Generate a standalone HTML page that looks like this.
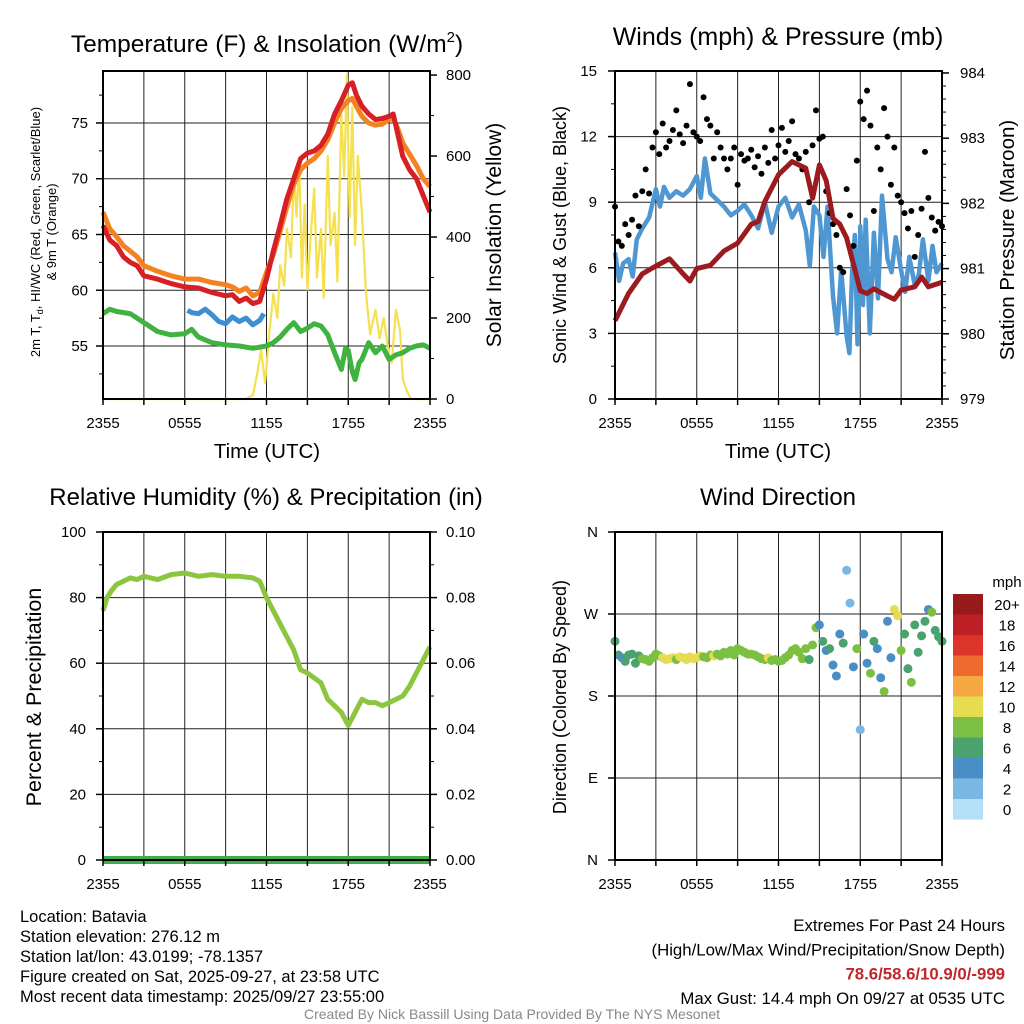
<!DOCTYPE html>
<html><head><meta charset="utf-8"><style>
body{margin:0;background:#fff}
svg{display:block;font-family:"Liberation Sans",sans-serif}
</style></head><body>
<svg id="c" width="1024" height="1024" viewBox="0 0 1024 1024" xmlns="http://www.w3.org/2000/svg"></svg>
<script>
// ---------- DATA ----------
const hourTicks=[0,6,12,18,24];
const hourTickLabels=["2355","0555","1155","1755","2355"];
const tempT=[0,0.5,1,1.5,2,2.5,3,4,5,6,7,8,9,9.5,10,10.5,11,11.5,12,12.5,13,13.5,14,14.5,15,15.5,16,16.5,17,17.5,18,18.3,18.6,19,19.5,20,20.5,21,21.3,21.6,22,22.5,23,23.5,24];
const tempRed=[65.8,64.5,64,63,62.5,62.2,61.3,61,60.6,60.3,60.2,59.8,59.5,59.6,59,59.3,58.8,59,61,63.5,65.8,68.2,70,71.8,72.3,72.5,73,74,75.8,77,78.4,78.6,77.5,76.5,75.8,75.3,75.4,75.6,75.8,74.2,72,70.8,70,68.5,67];
const tempOrange=[67,65.5,64.8,64,63.5,63,62.2,61.7,61.3,61,61,60.7,60.5,60.3,59.9,60.2,59.5,59.8,61.6,63.2,65.3,67.5,69.5,70.8,71.4,71.8,72.5,73.5,75,76.3,77,77.2,76.5,75.6,75,74.8,74.9,75.3,75.4,74.6,73.2,72.2,71.2,70,69.3];
const dewT=[6.2,6.5,7,7.5,8,8.5,9,9.5,10,10.5,11,11.5,11.8];
const dewBlue=[58.2,58,57.9,58.3,57.8,57.2,57,57.6,57.2,57.5,56.9,57.3,57.9];
const greenT=[0,0.5,1,2,3,4,5,6,6.5,7,8,9,10,11,12,12.5,13,13.5,14,14.5,15,15.5,16,16.5,17,17.3,17.5,17.8,18,18.3,18.5,18.8,19,19.5,20,20.5,21,21.5,22,22.5,23,23.5,24];
const greenVal=[57.9,58.3,58.1,57.9,57.1,56.3,56,56.1,56.5,55.8,55.3,55.1,55,54.8,55,55.3,55.8,56.5,57.1,56.3,56.6,57,56.8,56,54.4,53.5,52.9,54.8,54.6,52.7,52,53.5,53.8,55.3,54.4,55,53.8,54.2,54.4,54.8,55,55.1,54.8];
const solarT=[0,10.5,11,11.3,11.6,11.9,12.2,12.5,12.8,13,13.3,13.5,13.8,14,14.2,14.4,14.6,14.8,15,15.2,15.5,15.7,16,16.2,16.5,16.7,17,17.2,17.5,17.7,17.9,18.1,18.3,18.5,18.7,19,19.3,19.6,20,20.3,20.6,21,21.2,21.5,21.8,22,22.3,22.6,24];
const solarVal=[0,0,10,60,120,40,160,260,200,330,280,420,350,560,450,590,300,480,270,380,520,300,420,250,600,380,460,290,700,550,800,450,720,380,600,460,260,160,220,150,200,110,90,220,170,50,20,0,0];
const windT=[0,0.3,0.6,1,1.3,1.6,2,2.5,3,3.3,3.6,4,4.5,5,5.5,6,6.3,6.6,7,7.5,8,8.5,9,9.5,10,10.5,11,11.5,12,12.5,13,13.5,14,14.3,14.6,15,15.3,15.6,16,16.3,16.6,17,17.2,17.4,17.6,17.8,18,18.2,18.4,18.7,19,19.3,19.6,20,20.3,20.6,21,21.3,21.6,22,22.3,22.6,23,23.3,23.6,24];
const windVal=[6.7,5.4,6.2,6.4,5.6,7.3,7.8,8.3,9.6,8.8,9.7,9.2,9.5,9.3,9.6,10.2,9.2,11,9.4,9.1,8.8,8.4,8.6,8.9,8.4,7.8,9,7.6,8.8,9.2,8.3,8.9,7.7,6.1,8.8,8.4,6.5,8.8,4.7,3.0,5.9,2.9,2.1,5.8,7.5,2.5,7.9,4.3,8.2,3.0,7.6,4.6,9.3,6.4,5.8,7.4,5.9,4.9,6.5,5.2,5.7,7.3,5.4,7.0,5.8,6.2];
const gustVal=[8.8,7.2,7.0,8.0,7.5,8.2,9.3,7.9,9.5,10.5,9.4,11.5,12.2,11.2,12.6,11.5,11.8,12.3,13.2,12.1,11.7,12.5,14.4,12.2,12.0,11.8,13.8,12.8,12.5,11.0,12.2,11.5,11.0,10.5,11.0,11.5,9.8,11.2,10.9,11.0,11.4,10.6,11.1,10.3,11.5,10.8,12.3,11.0,11.6,12.4,11.3,11.8,12.7,11.2,11.0,10.5,11.3,9.0,11.6,13.2,11.9,12.0,9.5,8.5,8.0,7.5,6.0,5.8,9.6,8.4,7.0,10.9,13.6,12.8,14.1,12.5,8.6,11.5,10.5,13.3,12.0,9.8,11.5,9.3,9.0,8.5,7.8,8.6,6.5,7.5,8.7,11.3,9.2,8.3,7.7,8.1,7.9];
const presT=[0,1,2,3,4,5,5.5,6,7,8,9,10,10.5,11,12,13,14,14.5,15,15.5,16,16.5,17,17.5,18,18.5,19,20,20.5,21,22,22.5,23,24];
const presVal=[980.2,980.62,980.92,981.04,981.15,980.92,980.81,981.0,981.05,981.27,981.39,981.68,981.72,982.03,982.44,982.64,982.54,982.08,982.59,982.35,981.77,981.68,981.47,981.07,980.66,980.62,980.69,980.58,980.53,980.67,980.72,980.87,980.72,980.79];
const rhT=[0,0.3,0.6,1,1.5,2,2.5,3,4,5,6,7,8,9,10,11,11.5,12,12.5,13,13.5,14,14.5,15,16,16.5,17,17.5,18,18.5,19,19.5,20,20.5,21,22,22.5,23,23.5,24];
const rhVal=[76,80,82,84,85,86,85.5,86.5,85.5,87,87.5,86.5,87,86.5,86.5,86,85,80,76,72,68,64,58,57,54,49,47,45,41,45,49,48,48,47,48,50,53,57,61,65];
const precipT=[0,24];
const precipVal=[0,0];
const dirVal=[240,225,222,218,225,226,216,224,221,220,218,222,226,224,222,220,221,222,220,223,222,220,223,221,222,224,223,222,225,224,226,224,228,226,230,225,232,230,228,226,226,225,223,221,220,222,219,220,218,219,222,225,230,232,228,221,232,220,236,255,258,240,230,232,214,202,248,238,318,282,212,232,143,248,216,205,240,232,200,185,262,222,275,268,230,248,210,195,258,228,246,262,275,272,252,245,240];
const dirSpd=[6,6,5,7,6,6,7,6,8,8,8,8,9,8,10,10,10,10,9,10,10,11,10,10,11,10,9,9,9,10,9,8,8,9,8,8,8,8,9,8,8,8,8,8,9,10,8,8,8,8,8,8,8,8,9,8,8,7,8,9,5,7,5,6,4,4,5,7,3,3,5,8,3,4,5,8,7,5,4,8,5,5,11,10,8,7,6,9,7,6,6,7,4,8,7,6,7];
const legendLabels=["20+","18","16","14","12","10","8","6","4","2","0"];
const legendColors=["#981a1b","#bd1f24","#dc3428","#ef6a2e","#f5a742","#e5dc52","#7cc043","#4aa36e","#4a8ec6","#7ab8e3","#b3e0f7"];

// ---------- HELPERS ----------
const NS="http://www.w3.org/2000/svg";
const svg=document.getElementById('c');
function el(tag,attrs,parent){const e=document.createElementNS(NS,tag);for(const k in attrs)e.setAttribute(k,attrs[k]);(parent||svg).appendChild(e);return e;}
function txt(s,x,y,size,anchor,extra,parent){const e=el('text',Object.assign({x:x,y:y,'font-size':size,'text-anchor':anchor||'middle',fill:'#000'},extra||{}),parent);e.textContent=s;return e;}
function lin(d0,d1,r0,r1){return v=>r0+(v-d0)/(d1-d0)*(r1-r0);}
function pathOf(xs,ys,fx,fy){return xs.map((t,i)=>(i?'L':'M')+fx(t).toFixed(1)+' '+fy(ys[i]).toFixed(1)).join(' ');}
function colorFor(s){let i=Math.min(10,Math.floor(s/2));return legendColors[10-i];}

function panel(name){
  const g=el('g',{});
  
  
  return g;
}
function grid(g,x0,x1,y0,y1,yLines){
  for(let h=0;h<=24;h+=3){const fx=lin(0,24,x0,x1);const l=el('line',{x1:fx(h),x2:fx(h),y1:y0,y2:y1,stroke:'#222','stroke-width':1},g);
    
    }
  yLines.forEach(y=>{const l=el('line',{x1:x0,x2:x1,y1:y,y2:y,stroke:'#222','stroke-width':1},g);
    
    });
}
function frame(g,x0,x1,y0,y1){const r=el('rect',{x:x0,y:y0,width:x1-x0,height:y1-y0,fill:'none',stroke:'#000','stroke-width':2},g);
  
  }
function xAxis(g,x0,x1,y1){const fx=lin(0,24,x0,x1);
  for(let h=0;h<=24;h+=3){el('line',{x1:fx(h),x2:fx(h),y1:y1,y2:y1+6,stroke:'#000','stroke-width':1.5},g);}
  hourTicks.forEach((h,i)=>{const t=txt(hourTickLabels[i],fx(h),y1+29,15,'middle',{},g);
    
    });
}
function yTicks(g,x,side,fy,vals,labels,minors,lx){
  vals.forEach((v,i)=>{el('line',{x1:x,x2:x+side*7,y1:fy(v),y2:fy(v),stroke:'#000','stroke-width':1.5},g);
    const t=txt(labels[i],lx,fy(v)+5,15,side<0?'end':'start',{},g);
    
    });
  minors.forEach(v=>{el('line',{x1:x,x2:x+side*4,y1:fy(v),y2:fy(v),stroke:'#000','stroke-width':1},g);});
}
function vlabel(g,s,x,y,size,name){const t=txt(s,x,y,size,'middle',{transform:`rotate(-90 ${x} ${y})`},g);
  
  return t;}

// ---------- PANEL 1: TEMPERATURE ----------
(function(){
  const x0=103,x1=430,y0=71,y1=399;
  const g=panel('temperature-panel');
  const fx=lin(0,24,x0,x1), fy=lin(50.25,79.66,y1,y0), fs=lin(0,810,y1,y0);
  grid(g,x0,x1,y0,y1,[55,60,65,70,75].map(fy));
  const sol=el('path',{d:pathOf(solarT,solarVal,fx,fs),fill:'none',stroke:'#f5e050','stroke-width':2.2,'stroke-linejoin':'round'},g);
  
  
  const gr=el('path',{d:pathOf(greenT,greenVal,fx,fy),fill:'none',stroke:'#3fb23f','stroke-width':5,'stroke-linejoin':'round'},g);
  
  
  const bl=el('path',{d:pathOf(dewT,dewBlue,fx,fy),fill:'none',stroke:'#3d8fd1','stroke-width':5,'stroke-linejoin':'round'},g);
  
  
  const or=el('path',{d:pathOf(tempT,tempOrange,fx,fy),fill:'none',stroke:'#f58220','stroke-width':5,'stroke-linejoin':'round'},g);
  
  
  const rd=el('path',{d:pathOf(tempT,tempRed,fx,fy),fill:'none',stroke:'#d71f26','stroke-width':5,'stroke-linejoin':'round'},g);
  
  
  frame(g,x0,x1,y0,y1);
  xAxis(g,x0,x1,y1);
  const mn=[];for(let v=52.5;v<80;v+=5)mn.push(v);
  yTicks(g,x0,-1,fy,[55,60,65,70,75],["55","60","65","70","75"],mn,88);
  const mn2=[];for(let v=100;v<810;v+=200)mn2.push(v);
  yTicks(g,x1,1,fs,[0,200,400,600,800],["0","200","400","600","800"],mn2,446);
  const tt=txt('',267,52,24.5,'middle',{},g);tt.innerHTML='Temperature (F) &amp; Insolation (W/m<tspan dy="-10" font-size="15">2</tspan><tspan dy="10">)</tspan>';
  
  
  const xl=txt('Time (UTC)',267,458,20.5,'middle',{},g);
  
  
  const l1=vlabel(g,'',40,232,13,'temperature-y-axis-title');l1.innerHTML='2m T, T<tspan dy="3" font-size="9">d</tspan><tspan dy="-3">, HI/WC (Red, Green, Scarlet/Blue)</tspan>';
  vlabel(g,'& 9m T (Orange)',56,232,13,'temperature-y-axis-title-2');
  vlabel(g,'Solar Insolation (Yellow)',501,235,21,'solar-y-axis-title');
})();

// ---------- PANEL 2: WINDS ----------
(function(){
  const x0=615,x1=942,y0=71,y1=399;
  const g=panel('winds-panel');
  const fx=lin(0,24,x0,x1), fy=lin(0,15,y1,y0), fp=lin(979,984.03,y1,y0);
  grid(g,x0,x1,y0,y1,[3,6,9,12].map(fy));
  const wl=el('path',{d:pathOf(windT,windVal,fx,fy),fill:'none',stroke:'#4f97d3','stroke-width':4.5,'stroke-linejoin':'round'},g);
  
  
  gustVal.forEach((v,i)=>{const c=el('circle',{cx:fx(i*0.25),cy:fy(v),r:3,fill:'#000'},g);
    
    });
  const pl=el('path',{d:pathOf(presT,presVal,fx,fp),fill:'none',stroke:'#9b1b1e','stroke-width':5,'stroke-linejoin':'round'},g);
  
  
  frame(g,x0,x1,y0,y1);
  xAxis(g,x0,x1,y1);
  const mn=[];for(let v=1.5;v<15;v+=3)mn.push(v);
  yTicks(g,x0,-1,fy,[0,3,6,9,12,15],["0","3","6","9","12","15"],mn,597);
  const mn2=[];for(let v=979.2;v<984;v+=0.2){if(Math.abs(v-Math.round(v))>0.05)mn2.push(v);}
  yTicks(g,x1,1,fp,[979,980,981,982,983,984],["979","980","981","982","983","984"],mn2,960);
  const tt=txt('Winds (mph) & Pressure (mb)',778,45,25,'middle',{},g);
  
  
  const xl=txt('Time (UTC)',778,458,20.5,'middle',{},g);
  
  
  vlabel(g,'Sonic Wind & Gust (Blue, Black)',566,235,18,'wind-y-axis-title');
  vlabel(g,'Station Pressure (Maroon)',1014,240,20.5,'pressure-y-axis-title');
})();

// ---------- PANEL 3: HUMIDITY ----------
(function(){
  const x0=103,x1=430,y0=532,y1=860;
  const g=panel('humidity-panel');
  const fx=lin(0,24,x0,x1), fy=lin(0,100,y1,y0), fp=lin(0,0.1,y1,y0);
  grid(g,x0,x1,y0,y1,[20,40,60,80].map(fy));
  const rl=el('path',{d:pathOf(rhT,rhVal,fx,fy),fill:'none',stroke:'#8cc63f','stroke-width':5,'stroke-linejoin':'round'},g);
  
  
  const pr=el('path',{d:pathOf(precipT,precipVal,fx,fp),fill:'none',stroke:'#3fae49','stroke-width':8},g);
  
  
  frame(g,x0,x1,y0,y1);
  xAxis(g,x0,x1,y1);
  const mn=[];for(let v=10;v<100;v+=20)mn.push(v);
  yTicks(g,x0,-1,fy,[0,20,40,60,80,100],["0","20","40","60","80","100"],mn,86);
  const mn2=[];for(let v=0.01;v<0.1;v+=0.02)mn2.push(v);
  yTicks(g,x1,1,fp,[0,0.02,0.04,0.06,0.08,0.1],["0.00","0.02","0.04","0.06","0.08","0.10"],mn2,446);
  const tt=txt('Relative Humidity (%) & Precipitation (in)',266,505,24,'middle',{},g);
  
  
  vlabel(g,'Percent & Precipitation',41,697,21.5,'humidity-y-axis-title');
})();

// ---------- PANEL 4: WIND DIRECTION ----------
(function(){
  const x0=615,x1=942,y0=532,y1=860;
  const g=panel('wind-direction-panel');
  const fx=lin(0,24,x0,x1), fy=lin(0,360,y1,y0);
  grid(g,x0,x1,y0,y1,[90,180,270].map(fy));
  dirVal.forEach((d,i)=>{const c=el('circle',{cx:fx(i*0.25),cy:fy(d),r:4.5,fill:colorFor(dirSpd[i])},g);
    
    });
  frame(g,x0,x1,y0,y1);
  xAxis(g,x0,x1,y1);
  yTicks(g,x0,-1,fy,[0,90,180,270,360],["N","E","S","W","N"],[],598);
  const tt=txt('Wind Direction',778,505,24,'middle',{},g);
  
  
  vlabel(g,'Direction (Colored By Speed)',566,697,18,'direction-y-axis-title');
  const lg=el('g',{},g);
  
  
  txt('mph',1007,587,15,'middle',{},lg);
  legendColors.forEach((c,i)=>{const r=el('rect',{x:953,y:594+i*20.5,width:30,height:20.6,fill:c},lg);
    
    
    const t=txt(legendLabels[i],1007,610+i*20.5,15,'middle',{},lg);
    
    });
})();

// ---------- FOOTER ----------
const infoLines=["Location: Batavia","Station elevation: 276.12 m","Station lat/lon: 43.0199; -78.1357","Figure created on Sat, 2025-09-27, at 23:58 UTC","Most recent data timestamp: 2025/09/27 23:55:00"];
infoLines.forEach((s,i)=>{const t=txt(s,20,922+i*20,16.5,'start',{});
  
  });
const ext=[["Extremes For Past 24 Hours","#000",'normal'],["(High/Low/Max Wind/Precipitation/Snow Depth)","#000",'normal'],["78.6/58.6/10.9/0/-999","#c0272d",'bold'],["Max Gust: 14.4 mph On 09/27 at 0535 UTC","#000",'normal']];
ext.forEach((e,i)=>{const t=txt(e[0],1005,931+i*24.3,16.8,'end',{fill:e[1],'font-weight':e[2]});
  
  });
const cr=txt('Created By Nick Bassill Using Data Provided By The NYS Mesonet',512,1019,14,'middle',{fill:'#888'});


</script>
</body></html>
